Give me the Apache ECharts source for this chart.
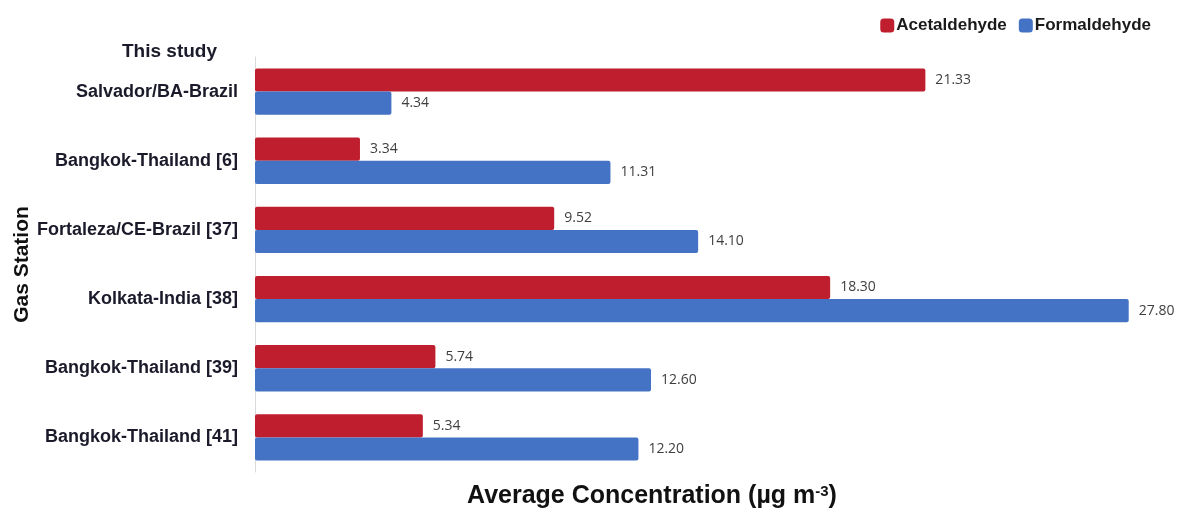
<!DOCTYPE html>
<html>
<head>
<meta charset="utf-8">
<script src="https://cdn.jsdelivr.net/npm/echarts@6/dist/echarts.min.js"></script>
<style>html,body{margin:0;padding:0;background:#fff}#c{width:1178px;height:510px}</style>
</head>
<body>
<div id="c"></div>
<script>
const categories = ['Salvador/BA-Brazil', 'Bangkok-Thailand [6]', 'Fortaleza/CE-Brazil [37]', 'Kolkata-India [38]', 'Bangkok-Thailand [39]', 'Bangkok-Thailand [41]'];
const acetaldehyde = [21.33, 3.34, 9.52, 18.30, 5.74, 5.34];
const formaldehyde = [4.34, 11.31, 14.10, 27.80, 12.60, 12.20];

const chart = echarts.init(document.getElementById('c'));
const lbl = {
  show: true, position: 'right', distance: 10,
  color: '#404040', fontFamily: 'Open Sans', fontSize: 14,
  formatter: p => p.value.toFixed(2)
};
chart.setOption({
  animation: false,
  legend: {
    top: 12, right: 22, itemWidth: 14, itemHeight: 14, itemGap: 12,
    icon: 'roundRect',
    textStyle: { fontFamily: 'Liberation Sans', fontWeight: 'bold', fontSize: 17, color: '#1a1a1a', padding: [0, 0, 0, -3] },
    data: ['Acetaldehyde', 'Formaldehyde']
  },
  grid: { left: 255, top: 57, width: 880, height: 415, containLabel: false, outerBoundsMode: 'none' },
  xAxis: {
    type: 'value', min: 0, max: 28,
    axisLine: { show: false }, axisTick: { show: false },
    axisLabel: { show: false }, splitLine: { show: false }
  },
  yAxis: {
    type: 'category', inverse: true, data: categories,
    axisLine: { show: true, lineStyle: { color: '#d9d9d9' } },
    axisTick: { show: false },
    axisLabel: { margin: 17, fontFamily: 'Liberation Sans', fontWeight: 'bold', fontSize: 18, color: '#1a1a2a' },
    name: 'Gas Station', nameLocation: 'middle', nameGap: 222, nameRotate: 90, nameMoveOverlap: false,
    nameTextStyle: { fontFamily: 'Liberation Sans', fontWeight: 'bold', fontSize: 21, color: '#111' }
  },
  graphic: [
    { type: 'text', left: 122, top: 42, style: { text: 'This study', fontFamily: 'Liberation Sans', fontWeight: 'bold', fontSize: 19, fill: '#1a1a2a' } },
    { type: 'text', left: 467, top: 484, style: {
      text: '{m|Average Concentration (µg m}{s|-3}{m|)}',
      rich: {
        m: { fontFamily: 'Liberation Sans', fontWeight: 'bold', fontSize: 25, fill: '#111', verticalAlign: 'bottom' },
        s: { fontFamily: 'Liberation Sans', fontWeight: 'bold', fontSize: 15, fill: '#111', verticalAlign: 'top', padding: [0, 0, 10, 0] }
      }
    } }
  ],
  series: [
    { name: 'Acetaldehyde', type: 'bar', data: acetaldehyde, barGap: '0%', barCategoryGap: '33%',
      itemStyle: { color: '#BE1E2D', borderRadius: 2 }, label: lbl },
    { name: 'Formaldehyde', type: 'bar', data: formaldehyde,
      itemStyle: { color: '#4472C4', borderRadius: 2 }, label: lbl }
  ]
});
</script>
</body>
</html>
